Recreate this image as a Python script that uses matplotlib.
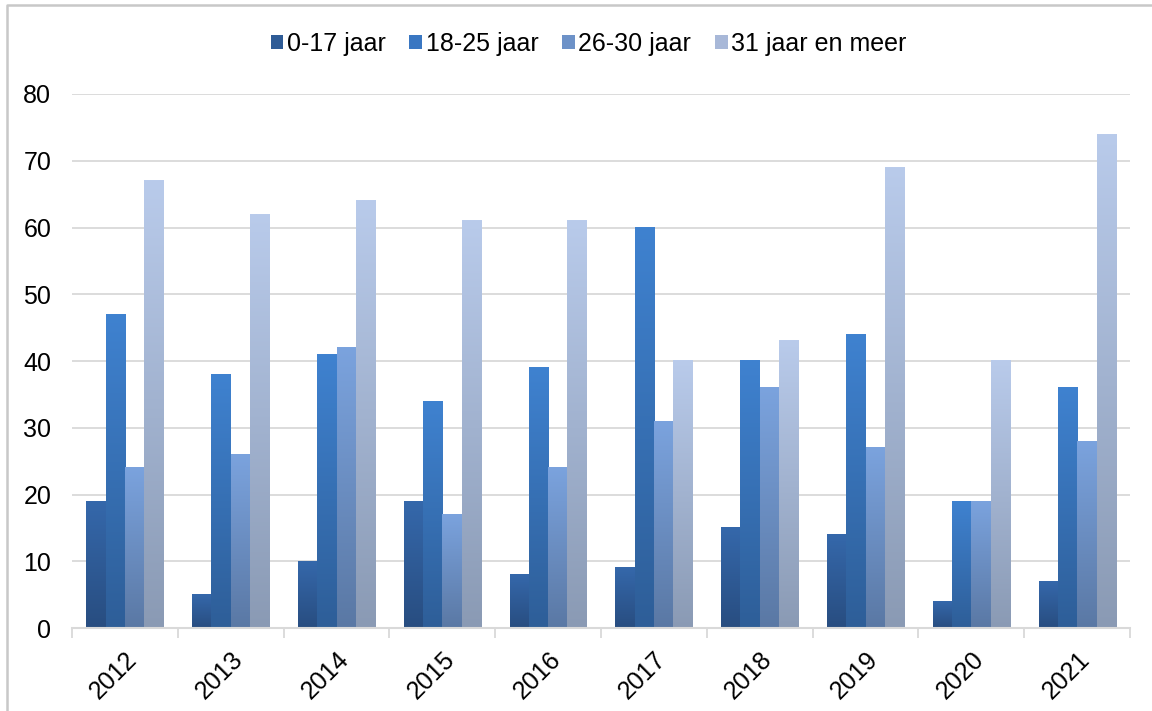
import numpy as np
import matplotlib.pyplot as plt
from matplotlib.colors import LinearSegmentedColormap
from matplotlib.patches import Rectangle
from matplotlib.lines import Line2D

plt.rcParams["font.family"] = ["Liberation Sans", "DejaVu Sans"]

# Data
years = ["2012", "2013", "2014", "2015", "2016", "2017", "2018", "2019", "2020", "2021"]
series_names = ["0-17 jaar", "18-25 jaar", "26-30 jaar", "31 jaar en meer"]
age_0_17 = [19, 5, 10, 19, 8, 9, 15, 14, 4, 7]
age_18_25 = [47, 38, 41, 34, 39, 60, 40, 44, 19, 36]
age_26_30 = [24, 26, 42, 17, 24, 31, 36, 27, 19, 28]
age_31_plus = [67, 62, 64, 61, 61, 40, 43, 69, 40, 74]

# (bottom colour, top colour) per series, plus legend swatch colour
colors = [("#284d80", "#3568ab"),
          ("#2e5e98", "#3f82d0"),
          ("#5a78a4", "#7ba3de"),
          ("#8a9ab4", "#b9cbeb")]
legend_colors = ["#2e5b96", "#3a77c2", "#6d92c8", "#a8b8d8"]

series = [age_0_17, age_18_25, age_26_30, age_31_plus]

fig = plt.figure(figsize=(11.52, 7.11), dpi=100)
ax = fig.add_axes([0.0625, 0.1167, 0.9185, 0.7511])

n = len(series)
group_w = 0.73
bar_w = group_w / n
x = np.arange(len(years))

grad = np.linspace(0, 1, 256).reshape(-1, 1)
for i, (vals, (c0, c1), name) in enumerate(zip(series, colors, series_names)):
    cmap = LinearSegmentedColormap.from_list(name, [c0, c1])
    pos = x - group_w / 2 + bar_w * (i + 0.5)
    bars = ax.bar(pos, vals, width=bar_w, color="none", zorder=2)
    for b in bars:
        bx, by = b.get_x(), b.get_y()
        w, h = b.get_width(), b.get_height()
        ax.imshow(grad, extent=(bx, bx + w, by, by + h), origin="lower",
                  cmap=cmap, aspect="auto", zorder=2)

ax.set_xlim(-0.5, len(years) - 0.5)
ax.set_ylim(0, 80)
ax.set_yticks(range(0, 81, 10))
ax.tick_params(axis="y", labelsize=18, length=0, pad=15)
ax.grid(axis="y", color="#d9d9d9", linewidth=1.3, zorder=0)
ax.set_axisbelow(True)

ax.set_xticks(x)
ax.set_xticklabels(years, rotation=45, fontsize=18, ha="right", rotation_mode="anchor")
ax.set_xticks(np.arange(-0.5, len(years)), minor=True)
ax.tick_params(axis="x", which="major", length=0, pad=14)
ax.tick_params(axis="x", which="minor", length=7, color="#d9d9d9", width=1.3)

for s in ["top", "right", "left"]:
    ax.spines[s].set_visible(False)
ax.spines["bottom"].set_color("#d9d9d9")
ax.spines["bottom"].set_linewidth(1.5)

handles = [Rectangle((0, 0), 1, 1, facecolor=c) for c in legend_colors]
fig.legend(handles, series_names, loc="center", bbox_to_anchor=(0.511, 0.938),
           ncol=4, frameon=False, fontsize=18, handlelength=0.5, handleheight=0.5,
           handletextpad=0.15, columnspacing=0.95)

# light frame on the left and top edges
fig.lines.append(Line2D([0.0065, 0.0065, 1.0], [0.0, 0.9935, 0.9935],
                        transform=fig.transFigure, color="#c8c8c8", linewidth=1.8))

fig.savefig("out.png", dpi=100)
